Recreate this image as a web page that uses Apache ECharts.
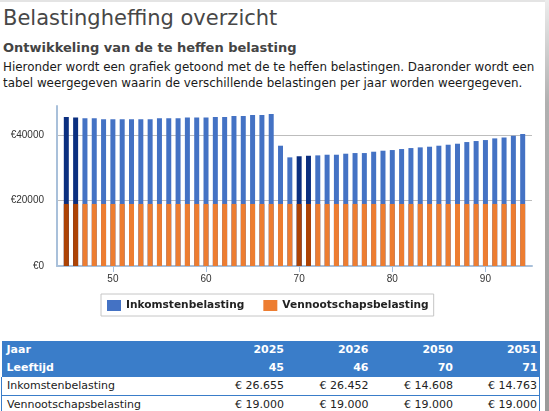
<!DOCTYPE html>
<html>
<head>
<meta charset="utf-8">
<script src="https://cdn.jsdelivr.net/npm/echarts@6/dist/echarts.min.js"></script>
<style>
  body { margin: 0; background: #fff; width: 549px; height: 411px; overflow: hidden; position: relative; font-family: "DejaVu Sans", Verdana, sans-serif; }
  .abs { position: absolute; white-space: nowrap; }
  #title { left: 3px; top: 6px; font-size: 21px; line-height: 24px; color: #474747; }
  #sub { left: 3px; top: 40px; font-size: 13px; line-height: 16px; font-weight: bold; color: #444; }
  #intro { left: 3px; top: 59px; font-size: 11.9px; line-height: 16px; color: #1a1a1a; }
  #chart { left: 0; top: 95px; width: 549px; height: 235px; }
  #topline { left: 0; top: 0; width: 549px; height: 2px; background: #e4e4e4; }
  #edge { left: 545px; top: 0; width: 4px; height: 411px; background: linear-gradient(to bottom, #ececec, #b0b0b0 25%, #9a9a9a); }
  table { position: absolute; left: 1px; top: 341px; width: 538px; border-collapse: collapse; font-size: 11px; table-layout: fixed; }
  td { padding: 0 2px 0 5px; height: 18px; line-height: 18px; white-space: nowrap; }
  td.n { text-align: right; }
  tr.h td { background: #3a7dc9; color: #fff; font-weight: bold; }
  tr.b td { color: #222; border-bottom: 1px solid #3a7dc9; height: 17px; }
  tr.b td:first-child { border-left: 1px solid #3a7dc9; }
  tr.b td:last-child { border-right: 1px solid #3a7dc9; }
</style>
</head>
<body>
<div class="abs" id="topline"></div>
<div class="abs" id="title">Belastingheffing overzicht</div>
<div class="abs" id="sub">Ontwikkeling van de te heffen belasting</div>
<div class="abs" id="intro">Hieronder wordt een grafiek getoond met de te heffen belastingen. Daaronder wordt een<br>tabel weergegeven waarin de verschillende belastingen per jaar worden weergegeven.</div>
<div class="abs" id="chart"></div>
<table id="tabel">
  <colgroup><col style="width:200px"><col style="width:84.5px"><col style="width:84.5px"><col style="width:84.5px"><col style="width:84.5px"></colgroup>
  <tbody id="tbody"></tbody>
</table>
<div class="abs" id="edge"></div>
<script>
// DATA

var leeftijden = [
  45, 46, 47, 48, 49, 50, 51, 52, 53, 54,
  55, 56, 57, 58, 59, 60, 61, 62, 63, 64,
  65, 66, 67, 68, 69, 70, 71, 72, 73, 74,
  75, 76, 77, 78, 79, 80, 81, 82, 83, 84,
  85, 86, 87, 88, 89, 90, 91, 92, 93, 94
];

var inkomstenbelasting = [
  26655, 26452, 26250, 26250, 25940, 25940, 25940, 25940, 25940, 25940,
  26250, 26250, 26250, 26450, 26450, 26450, 26660, 26660, 26960, 26960,
  27260, 27260, 27560, 17840, 14270, 14608, 14763, 14880, 15080, 15080,
  15390, 15590, 15590, 16000, 16310, 16510, 16820, 17120, 17330, 17530,
  17840, 18140, 18450, 18960, 19270, 19570, 20080, 20390, 20900, 21410
];

var vennootschapsbelasting = [
  19000, 19000, 19000, 19000, 19000, 19000, 19000, 19000, 19000, 19000,
  19000, 19000, 19000, 19000, 19000, 19000, 19000, 19000, 19000, 19000,
  19000, 19000, 19000, 19000, 19000, 19000, 19000, 19000, 19000, 19000,
  19000, 19000, 19000, 19000, 19000, 19000, 19000, 19000, 19000, 19000,
  19000, 19000, 19000, 19000, 19000, 19000, 19000, 19000, 19000, 19000
];

// jaren in de tabel (en gemarkeerd in de grafiek)
var tabelJaren = [2025, 2026, 2050, 2051];
var tabelLeeftijden = [45, 46, 70, 71];

var xTicks = [50, 60, 70, 80, 90];
var yTicks = [0, 20000, 40000];

// COLORS

var BLAUW = "#4472c4", BLAUW_DONKER = "#0b2f80";
var ORANJE = "#ed7d31", ORANJE_DONKER = "#ad4305";

// bar = [leeftijd, onderkant + eigen waarde]; de blauwe staaf staat boven op de oranje
function bouwReeks(onder, waarden, donker) {
  var out = [];
  for (var i = 0; i < leeftijden.length; i++) {
    var item = { value: [leeftijden[i], (onder ? onder[i] : 0) + waarden[i]] };
    if (tabelLeeftijden.indexOf(leeftijden[i]) >= 0) {
      item.itemStyle = { color: donker };
    }
    out.push(item);
  }
  return out;
}

function euro(v) {
  return "€ " + String(v).replace(/\B(?=(\d{3})+(?!\d))/g, ".");
}

// TABLE

var rijen = [
  ["h", "Jaar", tabelJaren],
  ["h", "Leeftijd", tabelLeeftijden],
  ["b", "Inkomstenbelasting", tabelLeeftijden.map(function (a) { return euro(inkomstenbelasting[leeftijden.indexOf(a)]); })],
  ["b", "Vennootschapsbelasting", tabelLeeftijden.map(function (a) { return euro(vennootschapsbelasting[leeftijden.indexOf(a)]); })]
];
var html = "";
for (var r of rijen) {
  html += '<tr class="' + r[0] + '"><td>' + r[1] + "</td>";
  for (var c of r[2]) html += '<td class="n">' + c + "</td>";
  html += "</tr>";
}
document.getElementById("tbody").innerHTML = html;

// CHART

var chart = echarts.init(document.getElementById("chart"));
var asKleur = "#a9c0da";

chart.setOption({
  animation: false,
  grid: { left: 57, right: 17, top: 11, bottom: 64 },
  legend: {
    data: ["Inkomstenbelasting", "Vennootschapsbelasting"],
    left: 101, top: 199,
    icon: "rect", itemWidth: 14, itemHeight: 11, itemGap: 19,
    padding: [6, 5, 5, 6],
    borderColor: "#c6c6c6", borderWidth: 1,
    textStyle: { fontFamily: "DejaVu Sans", fontWeight: "bold", fontSize: 10.6, color: "#222" }
  },
  xAxis: {
    type: "value", min: 44, max: 95,
    axisLine: { show: true, lineStyle: { color: asKleur, width: 2 } },
    axisTick: { show: true, customValues: xTicks, length: 6, lineStyle: { color: asKleur } },
    axisLabel: { customValues: xTicks, color: "#333", fontSize: 10, fontFamily: "Liberation Sans", margin: 8 },
    splitLine: { show: false }
  },
  yAxis: {
    type: "value", min: 0, max: 49000, interval: 20000,
    axisLine: { show: true, lineStyle: { color: asKleur, width: 2 } },
    axisTick: { show: false },
    axisLabel: {
      customValues: yTicks,
      formatter: function (v) { return "€" + v; },
      color: "#333", fontSize: 10, fontFamily: "Liberation Sans", margin: 13
    },
    splitLine: { show: true, showMinLine: false, showMaxLine: false, lineStyle: { color: "#bdbdbd" } }
  },
  series: [
    {
      name: "Inkomstenbelasting", type: "bar", barWidth: 5, barGap: "-100%",
      itemStyle: { color: BLAUW },
      data: bouwReeks(vennootschapsbelasting, inkomstenbelasting, BLAUW_DONKER)
    },
    {
      name: "Vennootschapsbelasting", type: "bar", barWidth: 5, barGap: "-100%",
      itemStyle: { color: ORANJE },
      data: bouwReeks(null, vennootschapsbelasting, ORANJE_DONKER)
    }
  ]
});
</script>
</body>
</html>
